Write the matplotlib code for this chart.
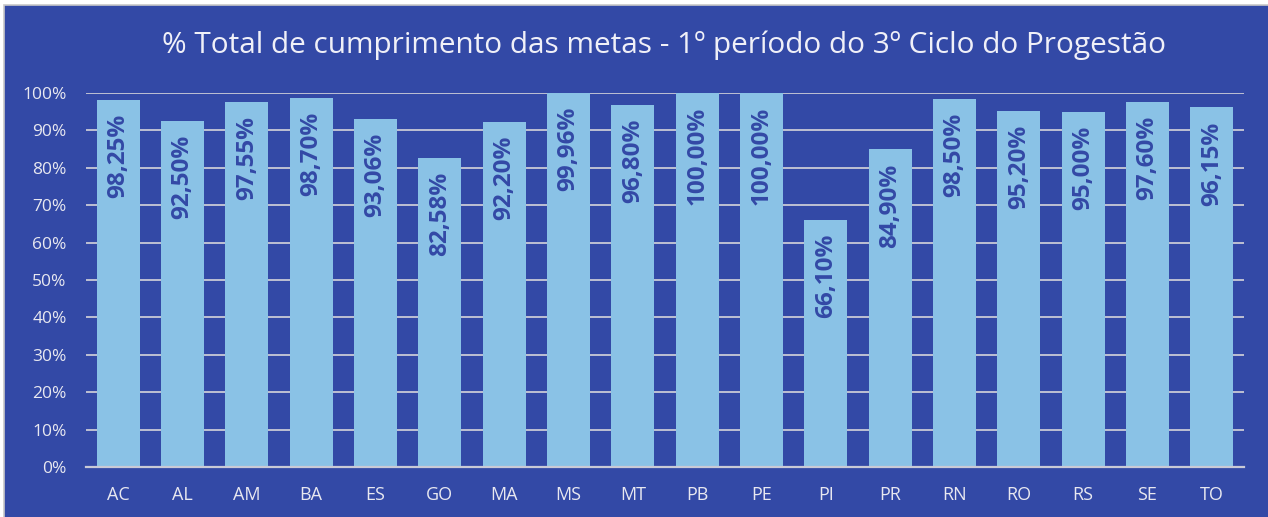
import matplotlib
matplotlib.use("Agg")
import matplotlib.pyplot as plt
from matplotlib.patches import Rectangle
from matplotlib.ticker import FuncFormatter, MultipleLocator

categories = ["AC", "AL", "AM", "BA", "ES", "GO", "MA", "MS", "MT", "PB",
              "PE", "PI", "PR", "RN", "RO", "RS", "SE", "TO"]
values = [98.25, 92.50, 97.55, 98.70, 93.06, 82.58, 92.20, 99.96, 96.80,
          100.00, 100.00, 66.10, 84.90, 98.50, 95.20, 95.00, 97.60, 96.15]
title = "% Total de cumprimento das metas - 1º período do 3º Ciclo do Progestão"

BG = "#3349A6"
BAR = "#8AC2E6"
LBL = "#3349A6"
TXT = "#E8E8F0"
GRID = "#C9CAD6"

plt.rcParams["font.family"] = ["Open Sans", "DejaVu Sans"]

W, H = 1268, 517
fig = plt.figure(figsize=(W / 100, H / 100), dpi=100, facecolor="white")
fig.patches.append(Rectangle((4 / W, -0.02), 1.02, (H - 5) / H + 0.02,
                             transform=fig.transFigure, facecolor=BG,
                             edgecolor="#C8C8C8", linewidth=1.2, zorder=-5))

ax = fig.add_axes([86 / W, (H - 467) / H, (1244 - 86) / W, (467 - 93) / H])
ax.set_facecolor("none")
x = list(range(len(categories)))
bars = ax.bar(x, values, width=0.67, color=BAR, zorder=2)
ax.set_xlim(-0.5, len(categories) - 0.5)
ax.set_ylim(0, 100)
ax.yaxis.set_major_locator(MultipleLocator(10))
ax.yaxis.set_major_formatter(FuncFormatter(lambda v, p: f"{v:.0f}%"))
ax.set_xticks(x)
ax.set_xticklabels(categories)
ax.grid(axis="y", color=GRID, linewidth=1.3, zorder=1)
ax.set_axisbelow(True)
for s in ["top", "right", "left"]:
    ax.spines[s].set_visible(False)
ax.spines["bottom"].set_color(GRID)
ax.spines["bottom"].set_linewidth(1.6)
ax.spines["bottom"].set_zorder(3)
ax.tick_params(axis="both", length=0, colors=TXT, labelsize=12.5)
ax.tick_params(axis="y", pad=14)
ax.tick_params(axis="x", pad=14, labelsize=13)

for xi, v in zip(x, values):
    ax.annotate(f"{v:.2f}%".replace(".", ","), xy=(xi, v), xytext=(0, -10),
                textcoords="offset points", rotation=90, ha="center", va="top",
                color=LBL, fontsize=17.5, fontweight="bold", zorder=4)

t = fig.text(664 / W, 1 - 45 / H, title, ha="center", va="center", color="#F0F0F8",
             fontsize=20)
fig.canvas.draw()
bb = t.get_window_extent()
t.set_fontsize(20 * 1000 / bb.width)

fig.savefig("out.png", dpi=100, facecolor="white")
